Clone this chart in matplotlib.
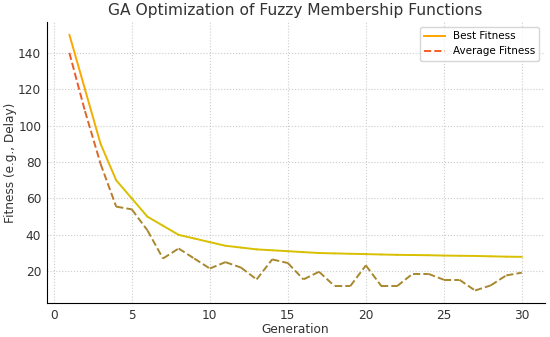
import matplotlib
matplotlib.use("Agg")
import matplotlib.pyplot as plt
import numpy as np
from matplotlib.lines import Line2D
from matplotlib.colors import to_rgb

generations = list(range(1, 31))
best_fitness = [150, 120, 90, 70, 60, 50, 45, 40, 38, 36, 34, 33, 32, 31.5, 31,
                30.5, 30, 29.8, 29.6, 29.4, 29.2, 29.0, 28.9, 28.8, 28.6, 28.5,
                28.4, 28.2, 28.0, 27.9]
avg_fitness = [140, 108, 79, 55.5, 54, 42.5, 27, 32.5, 27, 21.5, 25, 22, 15.5, 26.5,
               24.5, 15.5, 19.7, 11.8, 11.8, 23.2, 11.8, 11.8, 18.6, 18.6, 15.3,
               15.3, 9.4, 12.2, 17.7, 19.2]

fig, ax = plt.subplots(figsize=(5.5, 3.37), dpi=100)

def mix(c1, c2, t):
    a, b = np.array(to_rgb(c1)), np.array(to_rgb(c2))
    return tuple(a + (b - a) * t)

def draw_grad(x, y, c_hi, c_lo, ls):
    n = len(x)
    for i in range(n - 1):
        t = min(1.0, i / 3.0)
        ax.plot(x[i:i + 2], y[i:i + 2], color=mix(c_hi, c_lo, t), lw=1.4,
                linestyle=ls, solid_capstyle='round')

draw_grad(generations, best_fitness, '#FFA500', '#D8C000', '-')
draw_grad(generations, avg_fitness, '#F05A28', '#A8882E', '--')

handles = [Line2D([], [], color='#FFA500', lw=1.4, ls='-'),
           Line2D([], [], color='#F5602A', lw=1.4, ls='--')]
ax.legend(handles, ['Best Fitness', 'Average Fitness'], loc='upper right', fontsize=7.5)

ax.set_title('GA Optimization of Fuzzy Membership Functions', fontsize=11.2,
             color='#333333', pad=5)
ax.set_xlabel('Generation', fontsize=8.7, color='#333333', labelpad=1)
ax.set_ylabel('Fitness (e.g., Delay)', fontsize=8.7, color='#333333', labelpad=1)
ax.grid(True, linestyle=':', color='#cccccc', lw=0.8)
ax.spines['top'].set_visible(False)
ax.spines['right'].set_visible(False)
ax.tick_params(labelsize=8.7, colors='#333333', length=0, pad=4)
ax.set_xticks([0, 5, 10, 15, 20, 25, 30])
ax.set_yticks([20, 40, 60, 80, 100, 120, 140])

fig.subplots_adjust(left=0.085, right=0.99, top=0.935, bottom=0.1)
fig.savefig('out.png', dpi=100)
